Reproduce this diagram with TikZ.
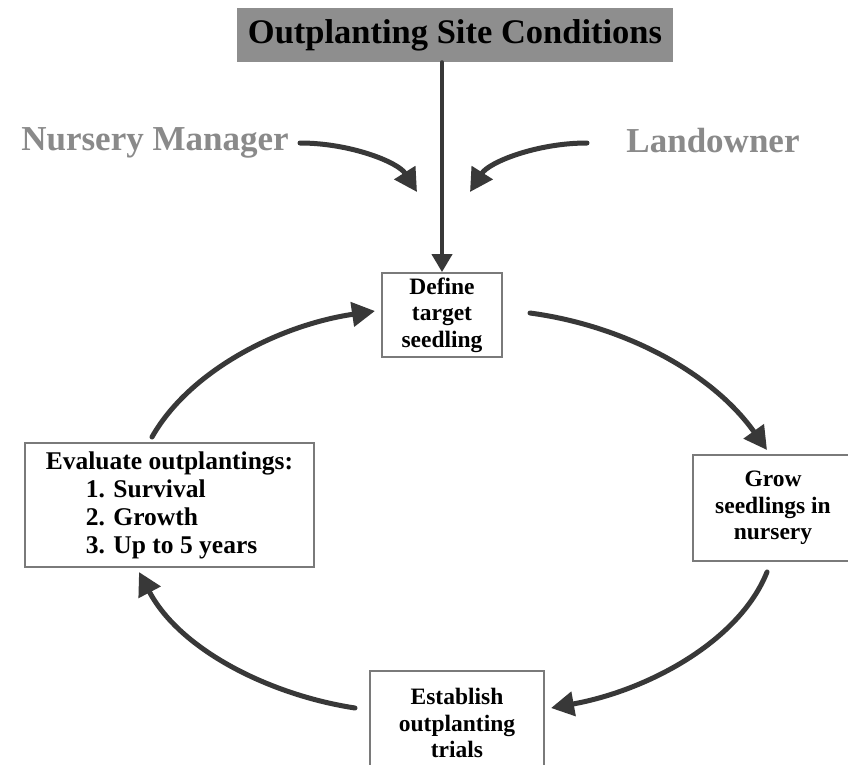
\documentclass[tikz,border=0pt]{standalone}
\usepackage{fontspec}
\setmainfont{Liberation Serif}
\usetikzlibrary{arrows.meta}
\definecolor{arrowgray}{HTML}{383838}
\definecolor{boxline}{HTML}{7A7A7A}
\definecolor{titlefill}{HTML}{8E8E8E}
\definecolor{labelgray}{HTML}{8A8A8A}
\begin{document}
\begin{tikzpicture}[x=1pt,y=-1pt,
  stagebox/.style={draw=boxline, line width=1.8pt, inner sep=0pt, align=center,
    font=\bfseries\fontsize{23.5}{26.5}\selectfont},
  flow/.style={draw=arrowgray, line width=5pt, line cap=round,
    -{Triangle[length=23pt,width=24pt]}},
  actor/.style={text=labelgray, font=\bfseries\fontsize{35}{40}\selectfont, inner sep=0pt}]
\useasboundingbox (0,0) rectangle (848,764);
\clip (0,0) rectangle (848,764);
\fill[white] (0,0) rectangle (848,764);

% title
\node[fill=titlefill, minimum width=436pt, minimum height=54pt, inner sep=0pt,
  font=\bfseries\fontsize{34.5}{40}\selectfont] (title) at (455,35) {Outplanting Site Conditions};

% actors
\node[actor] (nursery) at (155,143) {Nursery Manager};
\node[actor] (owner) at (713,141) {Landowner};

% stages
\node[stagebox, minimum width=120pt, minimum height=84pt] (define) at (442,315)
  {Define\\target\\seedling};
\node[stagebox, minimum width=160pt, minimum height=106pt] (grow) at (773,508)
  {Grow\\seedlings in\\nursery};
\node[stagebox, minimum width=174pt, minimum height=104pt] (establish) at (457,723)
  {Establish\\outplanting\\trials};
\node[stagebox, minimum width=289pt, minimum height=124pt, align=left,
  font=\bfseries\fontsize{25.5}{28}\selectfont] (evaluate) at (169.5,505)
  {Evaluate outplantings:\\
   \hspace*{40pt}1. Survival\\
   \hspace*{40pt}2. Growth\\
   \hspace*{40pt}3. Up to 5 years};

% connector end points
\coordinate (nms) at (300,143);
\coordinate (nme) at (417,192);
\coordinate (lds) at (587,143);
\coordinate (lde) at (470,192);
\coordinate (a1s) at (530,313);
\coordinate (a1e) at (767,450);
\coordinate (a2s) at (767,572);
\coordinate (a2e) at (551,708);
\coordinate (a3s) at (355,708);
\coordinate (a3e) at (139,572);
\coordinate (a4s) at (152,437);
\coordinate (a4e) at (375,311);

% connectors
\draw[flow, line width=4pt, -{Triangle[length=18pt,width=20pt]}]
  (define.north |- title.south) -- (define.north);
\draw[flow] (nms) .. controls (350,143) and (398,162) .. (nme);
\draw[flow] (lds) .. controls (537,143) and (489,162) .. (lde);
\draw[flow] (a1s) .. controls (620,325) and (710,370) .. (a1e);
\draw[flow] (a2s) .. controls (740,640) and (650,690) .. (a2e);
\draw[flow] (a3s) .. controls (270,695) and (180,650) .. (a3e);
\draw[flow] (a4s) .. controls (190,370) and (280,325) .. (a4e);
\end{tikzpicture}
\end{document}
